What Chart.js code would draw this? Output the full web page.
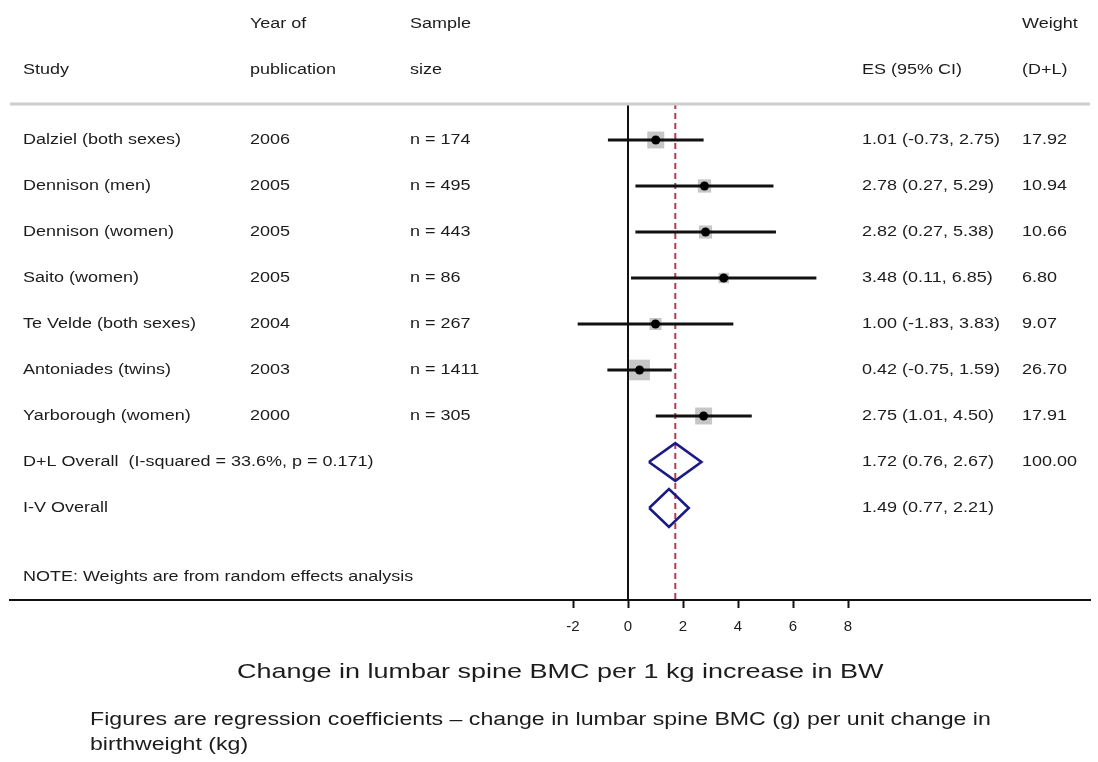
<!DOCTYPE html>
<html>
<head>
<meta charset="utf-8">
<script src="https://cdn.jsdelivr.net/npm/chart.js@4"></script>
<style>
  html, body { margin: 0; padding: 0; background: #fff; }
  canvas { display: block; }
</style>
</head>
<body>
<canvas id="forestChart" width="1098" height="762"></canvas>
<script>
// study data
const studies = ["Dalziel (both sexes)", "Dennison (men)", "Dennison (women)", "Saito (women)",
  "Te Velde (both sexes)", "Antoniades (twins)", "Yarborough (women)"];
const years = ["2006", "2005", "2005", "2005", "2004", "2003", "2000"];
const sizes = [174, 495, 443, 86, 267, 1411, 305];
const es = [1.01, 2.78, 2.82, 3.48, 1.00, 0.42, 2.75];
const lo = [-0.73, 0.27, 0.27, 0.11, -1.83, -0.75, 1.01];
const hi = [2.75, 5.29, 5.38, 6.85, 3.83, 1.59, 4.50];
const weights = [17.92, 10.94, 10.66, 6.80, 9.07, 26.70, 17.91];

// pooled estimates
const overallLabels = ["D+L Overall  (I-squared = 33.6%, p = 0.171)", "I-V Overall"];
const overallEs = [1.72, 1.49];
const overallLo = [0.76, 0.77];
const overallHi = [2.67, 2.21];
const overallWeights = ["100.00", ""];

const xTicks = [-2, 0, 2, 4, 6, 8];

// layout: 27.5px per unit, x=0 at 628px; rows 46px apart, first at 140px
const X_MIN = -618 / 27.5, X_MAX = 462 / 27.5;
const Y_MIN = (103 - 140) / 46, Y_MAX = (600 - 140) / 46;
const SX = 1.285;
const FONT = "'Liberation Sans', Arial, Helvetica, sans-serif";
const INK = "#1c1c1c";

const rows = studies.map((_, i) => i);
const nS = studies.length;

function seg(x1, x2, y) {
  return [{ x: x1, y: y }, { x: x2, y: y }];
}

const ciSets = rows.map((i) => ({
  data: seg(lo[i], hi[i], i),
  showLine: true,
  borderColor: "#111",
  borderWidth: 2.8,
  pointRadius: 0,
  order: 1,
}));

const diamondSets = overallEs.map((e, k) => {
  const y = nS + k, h = 0.41;
  return {
    data: [
      { x: overallLo[k], y: y }, { x: e, y: y - h }, { x: overallHi[k], y: y },
      { x: e, y: y + h }, { x: overallLo[k], y: y },
    ],
    showLine: true,
    borderColor: "#1b1b86",
    borderWidth: 2.6,
    pointRadius: 0,
    order: 1,
  };
});

function drawText(ctx, str, x, y, size, align) {
  ctx.save();
  ctx.font = size + "px " + FONT;
  ctx.fillStyle = INK;
  ctx.textBaseline = "middle";
  ctx.textAlign = align || "left";
  ctx.translate(x, y);
  ctx.scale(SX, 1);
  ctx.fillText(str, 0, 0);
  ctx.restore();
}

const tablePlugin = {
  id: "table",
  afterDraw(chart) {
    const ctx = chart.ctx;
    const yS = chart.scales.y;
    // top rule
    ctx.save();
    ctx.strokeStyle = "#cdcdcd";
    ctx.lineWidth = 3;
    ctx.beginPath();
    ctx.moveTo(10, 104);
    ctx.lineTo(1090, 104);
    ctx.stroke();
    ctx.restore();

    // headers
    drawText(ctx, "Year of", 250, 24, 14);
    drawText(ctx, "Sample", 410, 24, 14);
    drawText(ctx, "Weight", 1022, 24, 14);
    drawText(ctx, "Study", 23, 70, 14);
    drawText(ctx, "publication", 250, 70, 14);
    drawText(ctx, "size", 410, 70, 14);
    drawText(ctx, "ES (95% CI)", 862, 70, 14);
    drawText(ctx, "(D+L)", 1022, 70, 14);

    rows.forEach((i) => {
      const y = yS.getPixelForValue(i);
      drawText(ctx, studies[i], 23, y, 14);
      drawText(ctx, years[i], 250, y, 14);
      drawText(ctx, "n = " + sizes[i], 410, y, 14);
      drawText(ctx, es[i].toFixed(2) + " (" + lo[i].toFixed(2) + ", " + hi[i].toFixed(2) + ")", 862, y, 14);
      drawText(ctx, weights[i].toFixed(2), 1022, y, 14);
    });
    overallLabels.forEach((lab, k) => {
      const y = yS.getPixelForValue(nS + k);
      drawText(ctx, lab, 23, y, 14);
      drawText(ctx, overallEs[k].toFixed(2) + " (" + overallLo[k].toFixed(2) + ", " + overallHi[k].toFixed(2) + ")", 862, y, 14);
      drawText(ctx, overallWeights[k], 1022, y, 14);
    });
    drawText(ctx, "NOTE: Weights are from random effects analysis", 23, 577, 14);

    // axis title and footnote
    drawText(ctx, "Change in lumbar spine BMC per 1 kg increase in BW", 237, 672, 21);
    drawText(ctx, "Figures are regression coefficients \u2013 change in lumbar spine BMC (g) per unit change in", 90, 720, 18);
    drawText(ctx, "birthweight (kg)", 90, 745, 18);
  },
};

new Chart(document.getElementById("forestChart"), {
  type: "scatter",
  data: {
    datasets: [
      {
        data: rows.map((i) => ({ x: es[i], y: i })),
        pointStyle: "circle",
        pointRadius: 4.5,
        pointBackgroundColor: "#000",
        pointBorderWidth: 0,
        order: 0,
      },
      ...ciSets,
      ...diamondSets,
      {
        data: rows.map((i) => ({ x: es[i], y: i })),
        pointStyle: "rect",
        pointRadius: rows.map((i) => (4 * Math.sqrt(weights[i])) / Math.SQRT2),
        pointBackgroundColor: "#c6c6c6",
        pointBorderWidth: 0,
        order: 2,
      },
      {
        data: [{ x: 0, y: Y_MIN }, { x: 0, y: Y_MAX }],
        showLine: true,
        borderColor: "#111",
        borderWidth: 2,
        pointRadius: 0,
        order: 3,
      },
      {
        data: [{ x: overallEs[0], y: Y_MIN }, { x: overallEs[0], y: Y_MAX }],
        showLine: true,
        borderColor: "#b03e4e",
        borderWidth: 2,
        borderDash: [6, 4],
        pointRadius: 0,
        order: 3,
      },
    ],
  },
  options: {
    responsive: false,
    animation: false,
    layout: { autoPadding: false, padding: { top: 103, left: 10, right: 8, bottom: 0 } },
    plugins: { legend: { display: false }, tooltip: { enabled: false } },
    scales: {
      x: {
        type: "linear",
        min: X_MIN,
        max: X_MAX,
        afterBuildTicks: (scale) => {
          scale.ticks = xTicks.map((v) => ({ value: v }));
        },
        afterFit: (scale) => {
          scale.height = 162;
        },
        grid: {
          drawOnChartArea: false,
          drawTicks: true,
          tickLength: 8,
          tickWidth: 2,
          tickColor: "#111",
        },
        border: { display: true, color: "#111", width: 2 },
        ticks: {
          padding: 10,
          maxRotation: 0,
          autoSkip: false,
          color: INK,
          font: { family: FONT, size: 15 },
        },
      },
      y: {
        type: "linear",
        display: false,
        reverse: true,
        min: Y_MIN,
        max: Y_MAX,
      },
    },
  },
  plugins: [tablePlugin],
});
</script>
</body>
</html>
